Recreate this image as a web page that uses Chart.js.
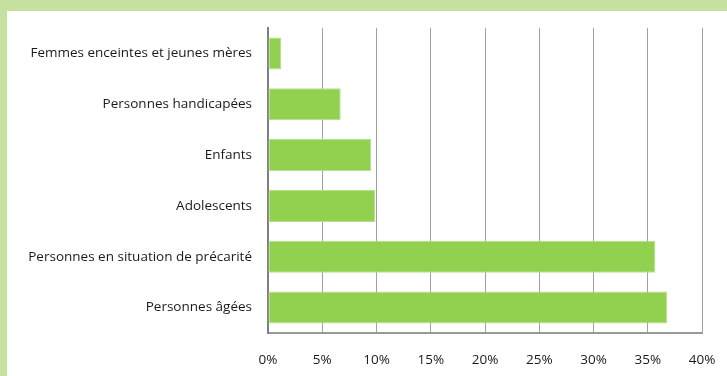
<!DOCTYPE html>
<html>
<head>
<meta charset="utf-8">
<script src="https://cdn.jsdelivr.net/npm/chart.js@4/dist/chart.umd.min.js"></script>
<style>
  html, body { margin: 0; padding: 0; background: #ffffff; }
  #frame {
    position: absolute; left: 0; top: 0; width: 727px; height: 376px;
    box-sizing: border-box;
    border-top: 11px solid #c5e09f;
    border-left: 7px solid #c5e09f;
  }
  #wrap { position: absolute; left: 0; top: 0; width: 727px; height: 376px; }
</style>
</head>
<body>
<div id="frame"></div>
<div id="wrap"><canvas id="c" width="727" height="376"></canvas></div>
<script>
// Groupes de population et part (%) pour chacun
const categories = [
  "Femmes enceintes et jeunes mères",
  "Personnes handicapées",
  "Enfants",
  "Adolescents",
  "Personnes en situation de précarité",
  "Personnes âgées"
];
const shares = [1.2, 6.7, 9.5, 9.9, 35.7, 36.8];
const xMax = 40;
const xStep = 5;

const font = { family: "'Open Sans', Lato, sans-serif", size: 13.5 };

new Chart(document.getElementById("c"), {
  type: "bar",
  data: {
    labels: categories,
    datasets: [{
      data: shares,
      backgroundColor: "#92d050",
      borderColor: "#b6e08c",
      borderWidth: 1,
      borderSkipped: false,
      categoryPercentage: 1,
      barPercentage: 0.63
    }]
  },
  options: {
    indexAxis: "y",
    responsive: false,
    animation: false,
    layout: { padding: { left: 0, top: 28, right: 25, bottom: 0 } },
    plugins: { legend: { display: false }, tooltip: { enabled: false } },
    scales: {
      x: {
        min: 0, max: xMax,
        ticks: {
          stepSize: xStep,
          padding: 19,
          color: "#1a1a1a",
          font: font,
          callback: v => v + "%"
        },
        grid: { color: "#a0a0a0", lineWidth: 1, drawTicks: false },
        border: { display: true, color: "#999999", width: 2 },
        afterFit: s => { s.height = 43; s.paddingLeft = 0; s.paddingRight = 0; }
      },
      y: {
        ticks: { padding: 16, color: "#1a1a1a", font: font },
        grid: { display: false, drawTicks: false },
        border: { display: true, color: "#7f7f7f", width: 2 },
        afterFit: s => { s.width = 268; }
      }
    }
  }
});
</script>
</body>
</html>
